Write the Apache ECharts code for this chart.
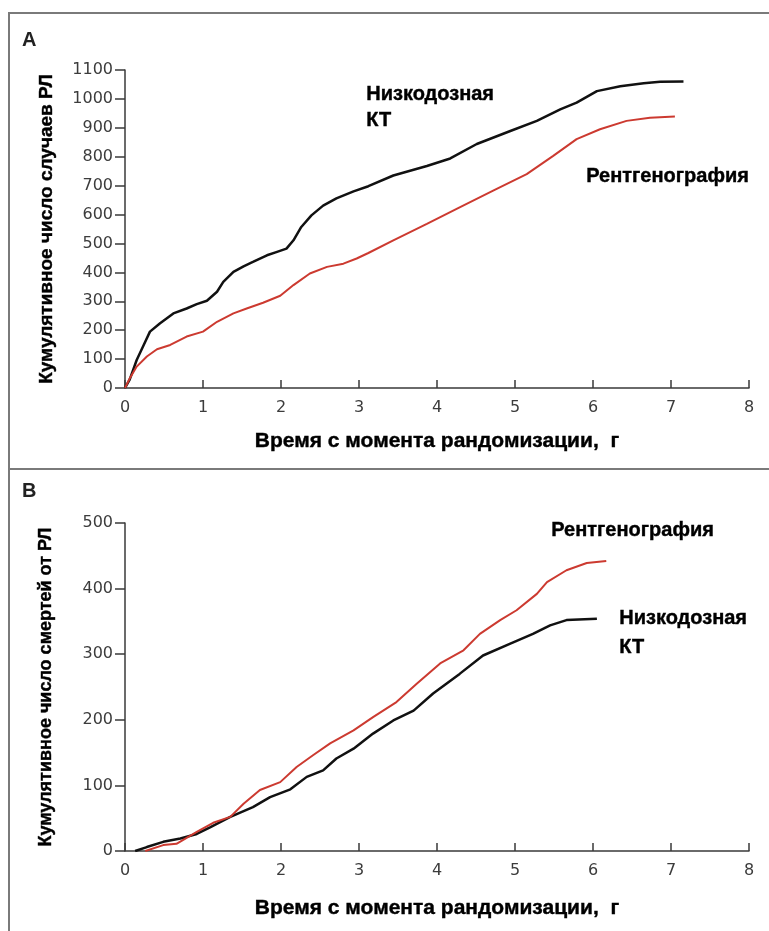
<!DOCTYPE html>
<html>
<head>
<meta charset="utf-8">
<script src="https://cdn.jsdelivr.net/npm/echarts@6/dist/echarts.min.js"></script>
<style>
html,body{margin:0;padding:0;background:#fff;}
#chart{width:769px;height:931px;}
</style>
</head>
<body>
<div id="chart"></div>
<script>
// Panel A: cumulative lung cancer cases
const ctTimeA  = [0, 0.06, 0.15, 0.24, 0.32, 0.45, 0.62, 0.79, 0.92, 1.05, 1.18, 1.26, 1.39, 1.52, 1.64, 1.82, 1.94, 2.07, 2.16, 2.26, 2.39, 2.54, 2.71, 2.93, 3.12, 3.44, 3.87, 4.17, 4.51, 4.94, 5.28, 5.58, 5.79, 6.05, 6.35, 6.65, 6.86, 7.16];
const ctCasesA = [0, 29, 97, 149, 195, 224, 258, 275, 290, 302, 333, 367, 402, 421, 436, 459, 470, 482, 511, 557, 597, 631, 656, 680, 698, 735, 768, 794, 844, 889, 924, 964, 987, 1027, 1044, 1054, 1059, 1060];
const xrTimeA  = [0, 0.06, 0.15, 0.28, 0.41, 0.58, 0.79, 1.0, 1.18, 1.39, 1.56, 1.77, 1.99, 2.16, 2.37, 2.59, 2.80, 2.97, 3.12, 3.44, 3.87, 4.29, 4.72, 5.15, 5.49, 5.79, 6.09, 6.43, 6.73, 7.05];
const xrCasesA = [0, 33, 74, 109, 134, 149, 178, 195, 229, 258, 275, 295, 319, 356, 396, 419, 430, 448, 467, 511, 568, 625, 683, 740, 803, 861, 895, 924, 935, 939];

// Panel B: cumulative lung cancer deaths
const ctTimeB   = [0.13, 0.28, 0.49, 0.71, 0.92, 1.09, 1.35, 1.64, 1.86, 2.12, 2.33, 2.54, 2.71, 2.93, 3.18, 3.44, 3.70, 3.95, 4.29, 4.59, 4.94, 5.23, 5.45, 5.66, 6.05];
const ctDeathsB = [0, 6, 14, 19, 26, 36, 52, 67, 82, 94, 113, 123, 141, 156, 179, 199, 214, 240, 270, 298, 316, 331, 344, 352, 354];
const xrTimeB   = [0.26, 0.49, 0.66, 0.92, 1.13, 1.35, 1.52, 1.73, 1.99, 2.2, 2.41, 2.63, 2.93, 3.18, 3.48, 3.74, 4.04, 4.34, 4.55, 4.81, 5.02, 5.28, 5.41, 5.66, 5.92, 6.17];
const xrDeathsB = [0, 9, 11, 29, 43, 52, 72, 93, 105, 128, 146, 164, 184, 204, 227, 255, 286, 306, 331, 352, 367, 392, 410, 428, 439, 442];

const xTicks = [0, 1, 2, 3, 4, 5, 6, 7, 8];
const yTicksA = [0, 100, 200, 300, 400, 500, 600, 700, 800, 900, 1000, 1100];
const yTicksB = [0, 100, 200, 300, 400, 500];

const xName = 'Время с момента рандомизации,  г';
const yNameA = 'Кумулятивное число случаев РЛ';
const yNameB = 'Кумулятивное число смертей от РЛ';
const nameCT = 'Низкодозная\nКТ';
const nameXR = 'Рентгенография';

const zip = (a, b) => a.map((t, i) => [t, b[i]]);

const chart = echarts.init(document.getElementById('chart'), null, {renderer: 'canvas'});

const boldFont = 'Liberation Sans';
const tickFont = 'DejaVu Sans';
const axisColor = '#3a3a3a';
const tickColor = '#3c3c3c';
const black = '#111111';
const red = '#cc3a30';

function xAxisCfg(gi, gap) {
  return {
    type: 'value', gridIndex: gi, min: xTicks[0], max: xTicks[xTicks.length - 1], interval: 1,
    name: xName, nameLocation: 'middle', nameGap: gap,
    nameTextStyle: {fontFamily: boldFont, fontWeight: 'bold', fontSize: 21, color: '#000', textBorderColor: '#000', textBorderWidth: 0.4},
    axisLine: {show: true, lineStyle: {color: axisColor, width: 1.5}},
    axisTick: {show: true, inside: true, length: 8, lineStyle: {color: axisColor, width: 1.5}},
    axisLabel: {fontFamily: tickFont, fontSize: 16, color: tickColor, margin: 12, formatter: v => String(v)},
    splitLine: {show: false}
  };
}
function yAxisCfg(gi, ticks, name, gap, nameSize) {
  return {
    type: 'value', gridIndex: gi, min: ticks[0], max: ticks[ticks.length - 1], interval: 100,
    name: name, nameLocation: 'middle', nameGap: gap, nameRotate: 90,
    nameTextStyle: {fontFamily: boldFont, fontWeight: 'bold', fontSize: nameSize, color: '#000', textBorderColor: '#000', textBorderWidth: 0.4},
    axisLine: {show: true, lineStyle: {color: axisColor, width: 1.5}},
    axisTick: {show: true, inside: false, length: 10, lineStyle: {color: axisColor, width: 1.5}},
    axisLabel: {fontFamily: tickFont, fontSize: 16, color: tickColor, margin: 12, formatter: v => String(v)},
    splitLine: {show: false}
  };
}

const annot = (left, top, text, lh) => ({
  type: 'text', left: left, top: top,
  style: {text: text, font: 'bold 20px "Liberation Sans"', fill: '#000', stroke: '#000', lineWidth: 0.4, lineHeight: lh}
});

const option = {
  backgroundColor: '#ffffff',
  animation: false,
  grid: [
    {left: 125, right: 20, top: 70, height: 318},
    {left: 125, right: 20, top: 523, height: 328}
  ],
  xAxis: [xAxisCfg(0, 43), xAxisCfg(1, 47)],
  yAxis: [yAxisCfg(0, yTicksA, yNameA, 69, 19), yAxisCfg(1, yTicksB, yNameB, 70, 18)],
  series: [
    {type: 'line', xAxisIndex: 0, yAxisIndex: 0, data: zip(ctTimeA, ctCasesA), showSymbol: false, lineStyle: {color: black, width: 2.5}},
    {type: 'line', xAxisIndex: 0, yAxisIndex: 0, data: zip(xrTimeA, xrCasesA), showSymbol: false, lineStyle: {color: red, width: 2}},
    {type: 'line', xAxisIndex: 1, yAxisIndex: 1, data: zip(ctTimeB, ctDeathsB), showSymbol: false, lineStyle: {color: black, width: 2.5}},
    {type: 'line', xAxisIndex: 1, yAxisIndex: 1, data: zip(xrTimeB, xrDeathsB), showSymbol: false, lineStyle: {color: red, width: 2}}
  ],
  graphic: [
    {type: 'rect', shape: {x: 9, y: 13, width: 820, height: 1000}, style: {fill: 'none', stroke: '#7a7a7a', lineWidth: 2}, silent: true},
    {type: 'line', shape: {x1: 9, y1: 469, x2: 769, y2: 469}, style: {stroke: '#7a7a7a', lineWidth: 2}, silent: true},
    {type: 'text', left: 22, top: 30, style: {text: 'A', font: 'bold 20px "Liberation Sans"', fill: '#222'}},
    {type: 'text', left: 22, top: 481, style: {text: 'B', font: 'bold 20px "Liberation Sans"', fill: '#222'}},
    annot(366, 81, nameCT, 26),
    annot(586, 164, nameXR, 24),
    annot(551, 518, nameXR, 24),
    annot(619, 604, nameCT, 29)
  ]
};
chart.setOption(option);
</script>
</body>
</html>
